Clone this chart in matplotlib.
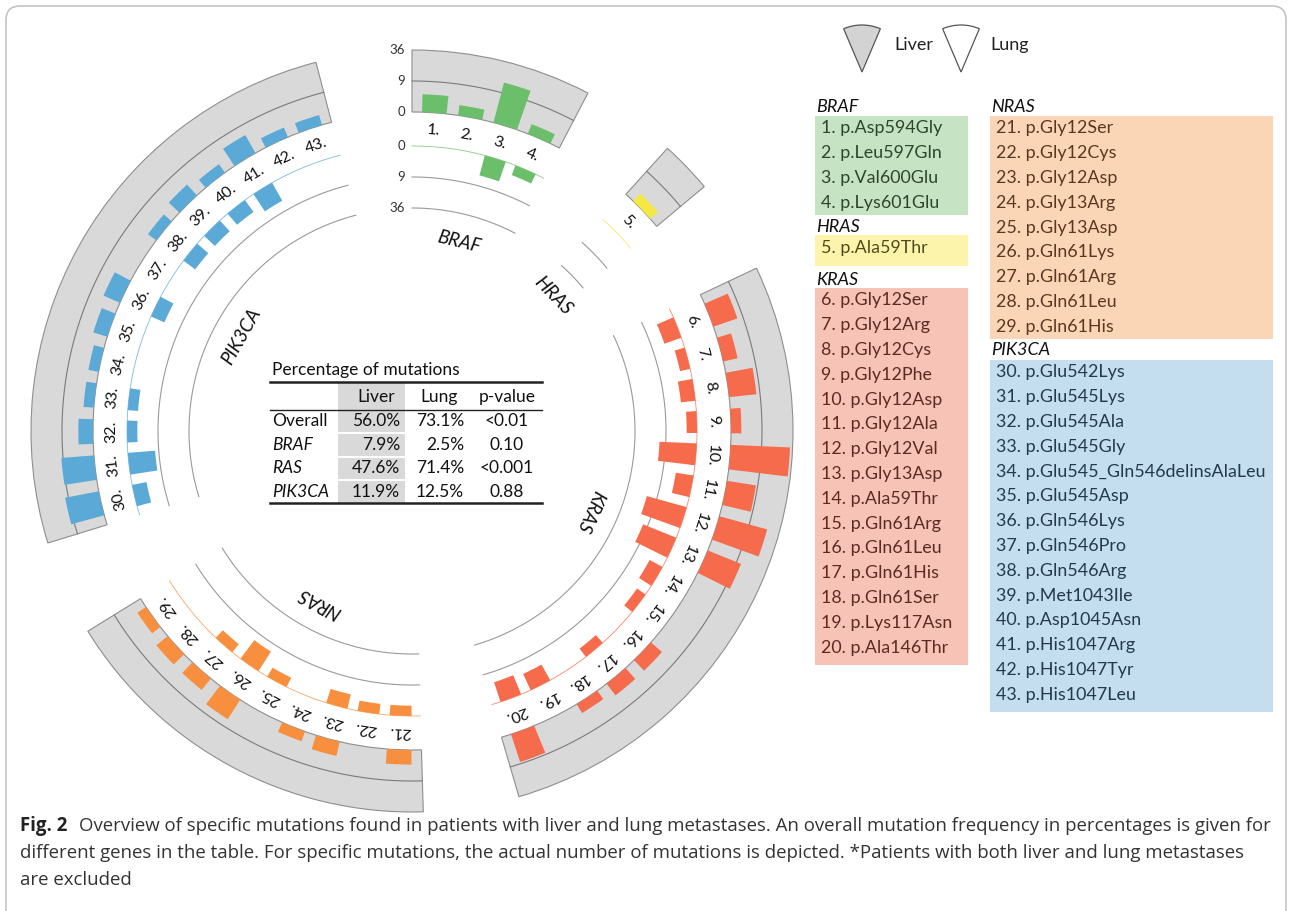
import numpy as np
import matplotlib.pyplot as plt
from matplotlib.patches import Wedge, Rectangle, FancyBboxPatch

# =====================================================
# DATA
# =====================================================

genes = ['BRAF', 'HRAS', 'KRAS', 'NRAS', 'PIK3CA']

braf_mut = ['p.Asp594Gly', 'p.Leu597Gln', 'p.Val600Glu', 'p.Lys601Glu']
hras_mut = ['p.Ala59Thr']
kras_mut = ['p.Gly12Ser', 'p.Gly12Arg', 'p.Gly12Cys', 'p.Gly12Phe', 'p.Gly12Asp',
            'p.Gly12Ala', 'p.Gly12Val', 'p.Gly13Asp', 'p.Ala59Thr', 'p.Gln61Arg',
            'p.Gln61Leu', 'p.Gln61His', 'p.Gln61Ser', 'p.Lys117Asn', 'p.Ala146Thr']
nras_mut = ['p.Gly12Ser', 'p.Gly12Cys', 'p.Gly12Asp', 'p.Gly13Arg', 'p.Gly13Asp',
            'p.Gln61Lys', 'p.Gln61Arg', 'p.Gln61Leu', 'p.Gln61His']
pik3ca_mut = ['p.Glu542Lys', 'p.Glu545Lys', 'p.Glu545Ala', 'p.Glu545Gly',
              'p.Glu545_Gln546delinsAlaLeu', 'p.Glu545Asp', 'p.Gln546Lys',
              'p.Gln546Pro', 'p.Gln546Arg', 'p.Met1043Ile', 'p.Asp1045Asn',
              'p.His1047Arg', 'p.His1047Tyr', 'p.His1047Leu']

# number of mutations
liver_braf = [3, 1, 16, 1]
lung_braf = [0, 0, 4, 1]
liver_hras = [1]
lung_hras = [0]
liver_kras = [6, 2, 7, 1, 33, 8, 23, 12, 0, 0, 2, 2, 1, 0, 8]
lung_kras = [3, 1, 2, 1, 13, 3, 16, 12, 2, 1, 0, 1, 0, 3, 4]
liver_nras = [2, 0, 2, 1, 0, 5, 2, 2, 1]
lung_nras = [1, 1, 2, 0, 1, 5, 1, 0, 0]
liver_pik3ca = [11, 10, 2, 1, 1, 2, 3, 0, 1, 2, 1, 4, 1, 1]
lung_pik3ca = [2, 7, 1, 1, 0, 0, 2, 0, 2, 2, 2, 4, 0, 0]

scale_ticks = [0, 9, 36]

tbl_rows = ['Overall', 'BRAF', 'RAS', 'PIK3CA']
tbl_liver = ['56.0%', '7.9%', '47.6%', '11.9%']
tbl_lung = ['73.1%', '2.5%', '71.4%', '12.5%']
tbl_p = ['<0.01', '0.10', '<0.001', '0.88']

caption = [
    'Overview of specific mutations found in patients with liver and lung metastases. An overall mutation frequency in percentages is given for',
    'different genes in the table. For specific mutations, the actual number of mutations is depicted. *Patients with both liver and lung metastases',
    'are excluded',
]

mut_lists = [braf_mut, hras_mut, kras_mut, nras_mut, pik3ca_mut]
liver_lists = [liver_braf, liver_hras, liver_kras, liver_nras, liver_pik3ca]
lung_lists = [lung_braf, lung_hras, lung_kras, lung_nras, lung_pik3ca]

bar_colors = ['#6cbf6a', '#f4e842', '#f56b4c', '#f78f3e', '#5ba9d7']
box_colors = ['#c6e4c4', '#fbf4aa', '#f8c3b7', '#fad5b6', '#c4deef']
txt_colors = ['#2d452c', '#4f4b20', '#5b2b22', '#5b3721', '#24394b']

# =====================================================
# FIGURE
# =====================================================

W, H = 1292, 911
plt.rcParams['font.family'] = ['Lato', 'DejaVu Sans']
fig = plt.figure(figsize=(W / 100, H / 100), dpi=100)

ov = fig.add_axes([0, 0, 1, 1])
ov.set_xlim(0, W)
ov.set_ylim(H, 0)
ov.axis('off')

# frame
ov.add_patch(FancyBboxPatch((6, 6), W - 12, H + 40,
                            boxstyle='round,pad=0,rounding_size=14',
                            fc='none', ec='#c4c4c4', lw=1.2, clip_on=True))

# =====================================================
# CIRCULAR PLOT
# =====================================================

cx, cy, R = 412, 431, 390
ax = fig.add_axes([(cx - R) / W, (H - cy - R) / H, 2 * R / W, 2 * R / H],
                  projection='polar')
ax.set_theta_zero_location('N')
ax.set_theta_direction(-1)
ax.set_ylim(0, R)
ax.axis('off')

slot, pad = 6.5, 0.75
n_total = sum(len(m) for m in mut_lists)
gap = (360 - n_total * slot - 2 * pad * len(genes)) / len(genes)

r_liver, r_lung, k = 319, 285, 31 / 3
r_label, r_gene = 301, 195


def sq(v):
    return k * np.sqrt(np.asarray(v, dtype=float))


start = 0.0
num = 1
for g, muts, liv, lun, col in zip(genes, mut_lists, liver_lists, lung_lists, bar_colors):
    n = len(muts)
    ext = n * slot + 2 * pad
    t0, t1 = np.radians(start), np.radians(start + ext)
    tt = np.linspace(t0, t1, 100)

    # liver band
    ax.bar((t0 + t1) / 2, sq(36), width=t1 - t0, bottom=r_liver,
           color='#d9d9d9', edgecolor='#8e8e8e', linewidth=0.8, zorder=1)
    ax.plot(tt, np.full_like(tt, r_liver + sq(9)), color='#7a7a7a', lw=0.8, zorder=2)

    # lung guides
    ax.plot(tt, np.full_like(tt, r_lung - sq(9)), color='#9a9a9a', lw=0.8, zorder=2)
    ax.plot(tt, np.full_like(tt, r_lung - sq(36)), color='#9a9a9a', lw=0.8, zorder=2)
    ax.plot(tt, np.full_like(tt, r_lung), color=col, lw=0.6, alpha=0.8, zorder=2)

    centers = np.radians(start + pad + slot * (np.arange(n) + 0.5))
    bw = np.radians(slot * 0.68)
    liv = np.array(liv)
    lun = np.array(lun)
    ax.bar(centers[liv > 0], sq(liv[liv > 0]), width=bw, bottom=r_liver,
           color=col, zorder=3)
    ax.bar(centers[lun > 0], sq(lun[lun > 0]), width=bw,
           bottom=r_lung - sq(lun[lun > 0]), color=col, zorder=3)

    for c in centers:
        ax.text(c, r_label, f'{num}.', rotation=-np.degrees(c), rotation_mode='anchor',
                ha='center', va='center', fontsize=11.5, color='#111111', zorder=4)
        num += 1

    mid = (t0 + t1) / 2
    ax.text(mid, r_gene, g, rotation=-np.degrees(mid), rotation_mode='anchor',
            ha='center', va='center', fontsize=13.5, style='italic', color='#111111')

    start += ext + gap

# scale ticks on the BRAF sector
for v in scale_ticks:
    for r in (r_liver + sq(v), r_lung - sq(v)):
        ax.text(-7.0 / r, r, str(v), ha='right', va='center', fontsize=9.5,
                color='#333333')

# =====================================================
# TABLE
# =====================================================

fs_t = 12.5
ov.add_patch(Rectangle((338, 383), 67, 120, fc='#d9d9d9', ec='none'))
row_y = [421, 445, 468, 492]
for y in [433, 457, 480]:
    ov.plot([338, 405], [y, y], color='white', lw=1.5)
ov.plot([270, 542], [382, 382], color='#222222', lw=1.8)
ov.plot([270, 542], [410, 410], color='#222222', lw=1.0)
ov.plot([270, 542], [503, 503], color='#222222', lw=1.8)

ov.text(272, 370, 'Percentage of mutations', fontsize=fs_t, va='center', color='#111111')
ov.text(376, 397, 'Liver', fontsize=fs_t, ha='center', va='center', color='#111111')
ov.text(439, 397, 'Lung', fontsize=fs_t, ha='center', va='center', color='#111111')
ov.text(507, 397, 'p-value', fontsize=fs_t, ha='center', va='center', color='#111111')
for i, (lab, lv, lg, p) in enumerate(zip(tbl_rows, tbl_liver, tbl_lung, tbl_p)):
    y = row_y[i]
    ov.text(272, y, lab, fontsize=fs_t, va='center', color='#111111',
            style='normal' if i == 0 else 'italic')
    ov.text(400, y, lv, fontsize=fs_t, ha='right', va='center', color='#111111')
    ov.text(464, y, lg, fontsize=fs_t, ha='right', va='center', color='#111111')
    ov.text(507, y, p, fontsize=fs_t, ha='center', va='center', color='#111111')

# =====================================================
# LEGEND (Liver / Lung)
# =====================================================

ov.add_patch(Wedge((862, 72), 47, 247, 293, fc='#d3d3d3', ec='#555555', lw=0.9))
ov.text(894, 45, 'Liver', fontsize=13, va='center', color='#222222')
ov.add_patch(Wedge((961, 72), 47, 247, 293, fc='white', ec='#555555', lw=0.9))
ov.text(990, 45, 'Lung', fontsize=13, va='center', color='#222222')

# =====================================================
# MUTATION LISTS
# =====================================================

step = 24.8
# (x, title y, box top, box bottom, box width)
blocks = [
    (815, 107, 116, 215, 153),
    (815, 227, 235, 266, 153),
    (815, 280, 288, 665, 153),
    (990, 107, 116, 339, 283),
    (990, 350, 360, 712, 283),
]
num = 1
for g, muts, bc, tc, (x0, ty, yb0, yb1, bwid) in zip(genes, mut_lists, box_colors,
                                                     txt_colors, blocks):
    ov.text(x0 + 1, ty, g, fontsize=13, style='italic', va='center', color='#111111')
    ov.add_patch(Rectangle((x0, yb0), bwid, yb1 - yb0, fc=bc, ec='none'))
    for j, m in enumerate(muts):
        ov.text(x0 + 6, yb0 + 12.5 + j * step, f'{num}. {m}', fontsize=12.9,
                va='center', color=tc)
        num += 1

# =====================================================
# CAPTION
# =====================================================

cap_y = [826, 853, 880]
ov.text(20, cap_y[0], 'Fig. 2', fontsize=13.4, fontweight='bold', va='center',
        color='#222222', family='Open Sans')
for i, line in enumerate(caption):
    ov.text(79 if i == 0 else 20, cap_y[i], line, fontsize=13.4, va='center',
            color='#333333', family='Open Sans')

fig.savefig('out.png', dpi=100)
